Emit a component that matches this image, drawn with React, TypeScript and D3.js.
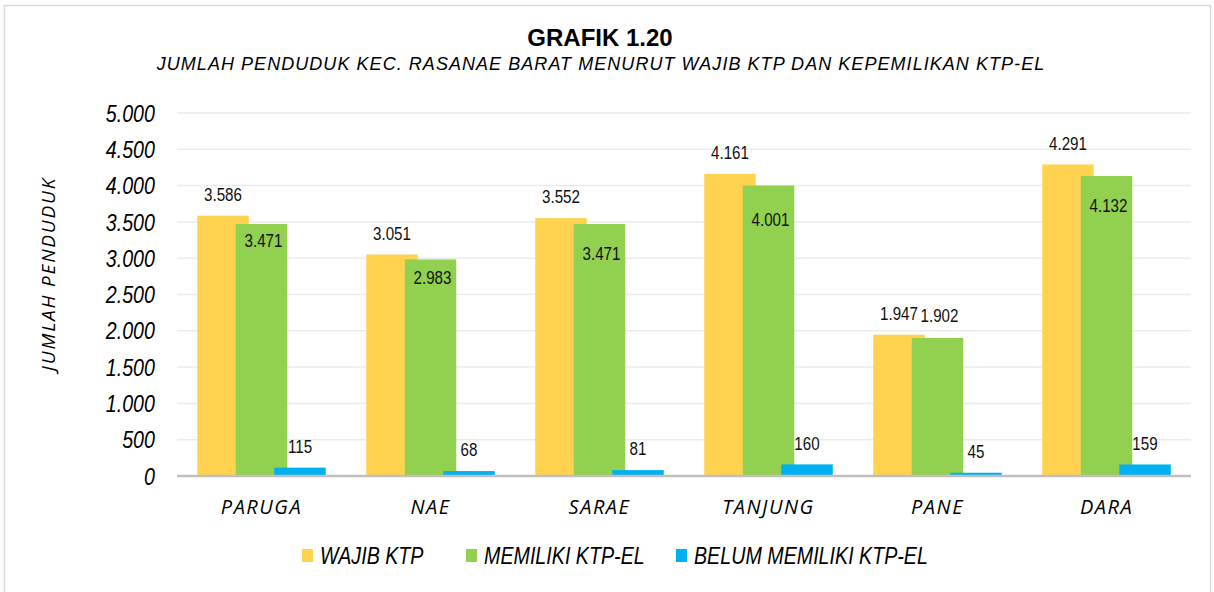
import React, { useRef, useEffect } from 'react';
import * as d3 from 'd3';

const categories = ['PARUGA', 'NAE', 'SARAE', 'TANJUNG', 'PANE', 'DARA'];
const wajibKtp = [3586, 3051, 3552, 4161, 1947, 4291];
const memilikiKtpEl = [3471, 2983, 3471, 4001, 1902, 4132];
const belumMemiliki = [115, 68, 81, 160, 45, 159];
const seriesNames = ['WAJIB KTP', 'MEMILIKI KTP-EL', 'BELUM MEMILIKI KTP-EL'];
const yTicks = [0, 500, 1000, 1500, 2000, 2500, 3000, 3500, 4000, 4500, 5000];

// label nudges for the green series (px below bar top, negative = above)
const greenLabelNudge = [16, 18, 29, 34, -23, 29];

const colors = ['#FFD24F', '#92D050', '#00B0F0'];
const arial = "'Liberation Sans', Arial, sans-serif";
const segoe = "'Open Sans', 'Noto Sans', sans-serif";
const squeeze = 0.82; // fake Arial Narrow

const fmt = (v: number) => d3.format(',')(v).replace(/,/g, '.');

function App() {
  const svgRef = useRef<SVGSVGElement>(null);

  useEffect(() => {
    const width = 1214;
    const height = 592;
    const marginLeft = 177;
    const marginRight = 23;
    const plotTop = 113;
    const plotBottom = 476;

    const svg = d3.select(svgRef.current);
    svg.selectAll('*').remove();
    svg.attr('width', width).attr('height', height);

    svg.append('rect')
      .attr('x', 4.5).attr('y', 5.5)
      .attr('width', 1206).attr('height', 590)
      .attr('fill', 'white')
      .attr('stroke', '#d9d9d9')
      .attr('stroke-width', 1.5);

    const x = d3.scaleBand<string>()
      .domain(categories)
      .range([marginLeft, width - marginRight]);

    const y = d3.scaleLinear()
      .domain([0, 5000])
      .range([plotBottom, plotTop]);

    // title
    svg.append('text')
      .attr('x', 600).attr('y', 46)
      .attr('text-anchor', 'middle')
      .attr('font-family', arial)
      .attr('font-weight', 'bold')
      .attr('font-size', 24)
      .text('GRAFIK 1.20');

    svg.append('text')
      .attr('x', 601).attr('y', 70)
      .attr('text-anchor', 'middle')
      .attr('font-family', arial)
      .attr('font-style', 'italic')
      .attr('font-size', 18)
      .attr('letter-spacing', 1.05)
      .text('JUMLAH PENDUDUK KEC. RASANAE BARAT MENURUT WAJIB KTP DAN KEPEMILIKAN KTP-EL');

    // grid
    svg.append('g')
      .selectAll('line')
      .data(yTicks.filter(d => d > 0))
      .join('line')
      .attr('x1', marginLeft).attr('x2', width - marginRight)
      .attr('y1', d => y(d)).attr('y2', d => y(d))
      .attr('stroke', '#ebebeb')
      .attr('stroke-width', 1.5);

    // y tick labels
    svg.append('g')
      .selectAll('text')
      .data(yTicks)
      .join('text')
      .attr('transform', d => `translate(155,${y(d)}) scale(${squeeze},1)`)
      .attr('dy', '0.36em')
      .attr('text-anchor', 'end')
      .attr('font-family', arial)
      .attr('font-style', 'italic')
      .attr('font-size', 24)
      .text(d => fmt(d));

    // axis title
    svg.append('text')
      .attr('transform', 'translate(55,274) rotate(-90)')
      .attr('text-anchor', 'middle')
      .attr('font-family', segoe)
      .attr('font-style', 'italic')
      .attr('font-size', 19)
      .attr('letter-spacing', 1.8)
      .text('JUMLAH PENDUDUK');

    // bars
    const step = 38.5;
    const barW = 51.5;
    const groupW = step * 2 + barW;
    const series = [wajibKtp, memilikiKtpEl, belumMemiliki];
    const barX = (cat: string, i: number) => x(cat)! + x.bandwidth() / 2 - groupW / 2 + i * step;

    series.forEach((vals, i) => {
      svg.append('g')
        .attr('fill', colors[i])
        .selectAll('rect')
        .data(vals)
        .join('rect')
        .attr('x', (d, j) => barX(categories[j], i))
        .attr('y', d => y(d))
        .attr('width', barW)
        .attr('height', d => y(0) - y(d));
    });

    // baseline
    svg.append('line')
      .attr('x1', marginLeft).attr('x2', width - marginRight)
      .attr('y1', y(0)).attr('y2', y(0))
      .attr('stroke', '#bfbfbf')
      .attr('stroke-width', 2.5);

    // data labels
    series.forEach((vals, i) => {
      svg.append('g')
        .selectAll('text')
        .data(vals)
        .join('text')
        .attr('transform', (d, j) => {
          const lx = barX(categories[j], i) + barW / 2 + (i === 1 ? 2 : 0);
          const ly = i === 1 ? y(d) + greenLabelNudge[j] : y(d) - 21.5;
          return `translate(${lx},${ly}) scale(${squeeze},1)`;
        })
        .attr('dy', '0.36em')
        .attr('text-anchor', 'middle')
        .attr('font-family', arial)
        .attr('font-size', 18.5)
        .attr('fill', '#111')
        .text(d => fmt(d));
    });

    // category labels
    svg.append('g')
      .selectAll('text')
      .data(categories)
      .join('text')
      .attr('x', d => x(d)! + x.bandwidth() / 2)
      .attr('y', 514)
      .attr('text-anchor', 'middle')
      .attr('font-family', segoe)
      .attr('font-style', 'italic')
      .attr('font-size', 20)
      .attr('letter-spacing', 1.5)
      .text(d => d);

    // legend
    const legendX = [302, 466, 676];
    const legend = svg.append('g');
    seriesNames.forEach((name, i) => {
      legend.append('rect')
        .attr('x', legendX[i]).attr('y', 549)
        .attr('width', 11).attr('height', 13)
        .attr('fill', colors[i]);
      legend.append('text')
        .attr('transform', `translate(${legendX[i] + 18},564) scale(${squeeze},1)`)
        .attr('font-family', arial)
        .attr('font-style', 'italic')
        .attr('font-size', 24)
        .text(name);
    });
  }, []);

  return (
    <svg ref={svgRef} style={{ position: 'absolute', left: 0, top: 0 }} />
  );
}

export default App;
